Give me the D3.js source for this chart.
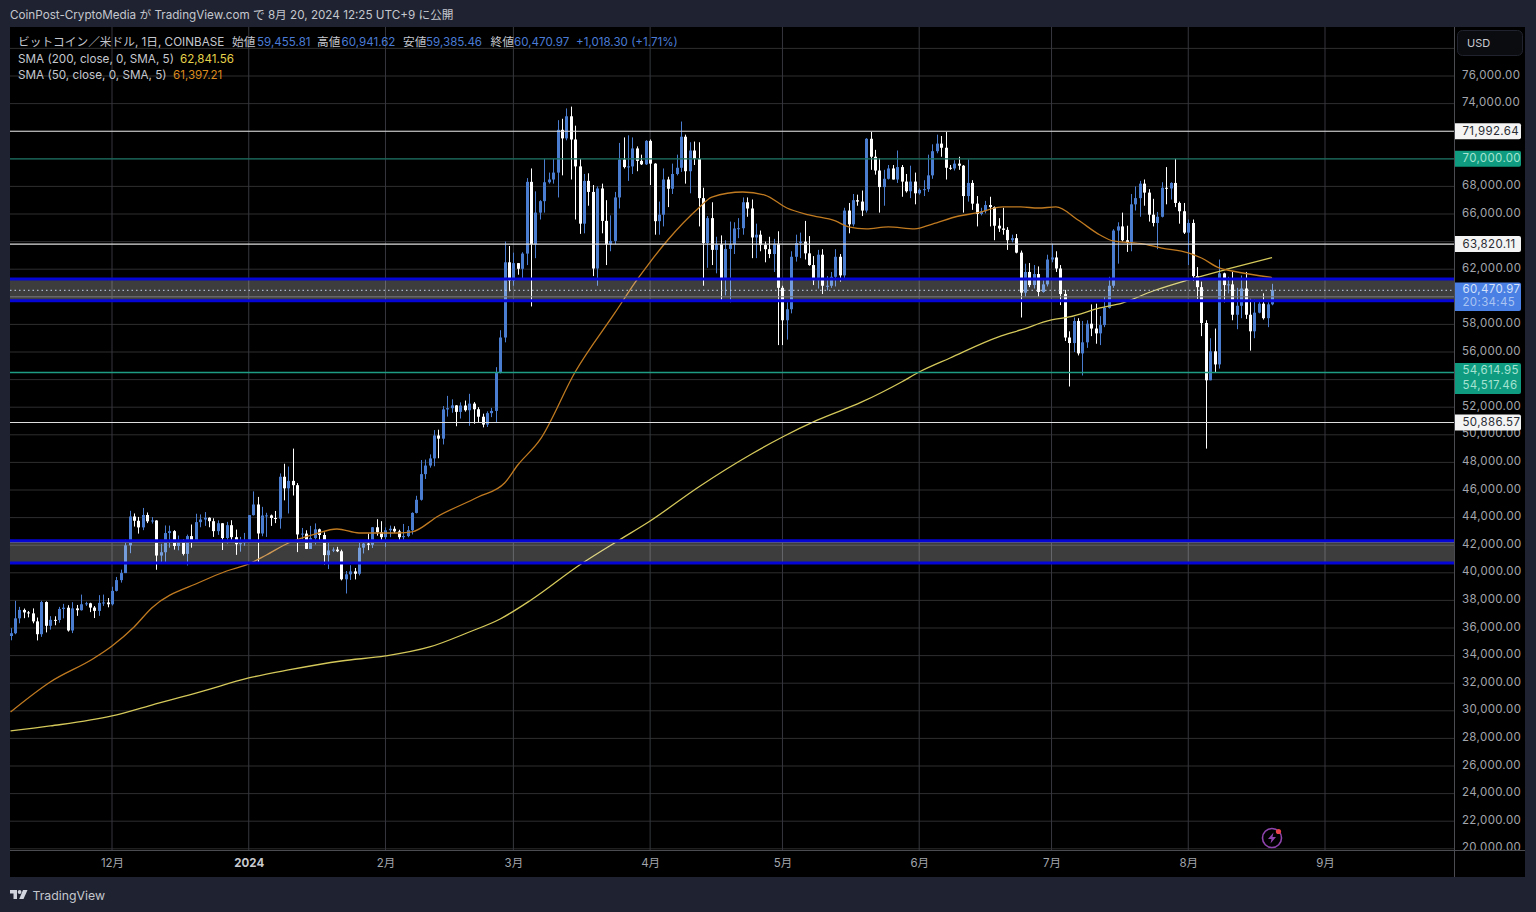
<!DOCTYPE html>
<html lang="ja">
<head>
  <meta charset="UTF-8" />
  <title>BTC/USD</title>
  <script src="https://d3js.org/d3.v7.min.js"></script>
  <style>
    html, body { margin: 0; padding: 0; background: #1f2230; overflow: hidden; }
    svg { display: block; }
    text { font-family: Inter, "Noto Sans CJK JP", sans-serif; }
    .price-axis text { font-size: 11.5px; fill: #a3a6ad; letter-spacing: 0.35px; }
    .time-axis text { font-size: 11.5px; fill: #a3a6ad; }
    .legend { font-size: 11.7px; fill: #c4c7ce; }
    .val { font-size: 11.6px; fill: #4a7cd6; }
  </style>
</head>
<body>
  <svg id="chart" width="1536" height="912"></svg>

  <script>
    const firstDay = "2023-11-08";

    const opens = [
      // Nov
      35420,35620,36700,37310,37130,37060,36480,35550,37880,36160,36590,36580,37380,37470,35820,37420,37290,37720,37790,37480,37240,37820,37850,
      // Dec
      37720,38690,39470,39980,41990,44080,43770,43290,44190,43730,43790,41250,41490,42880,43020,41940,42260,41370,42660,42270,43670,43860,43990,43740,43020,43590,42520,43450,42580,42070,42150,
      // Jan
      42280,44180,44950,42850,44150,44160,43970,43930,46960,46120,46660,46350,42780,42840,41730,42510,43150,42740,41280,41620,41680,41560,39530,39890,40100,39930,41820,42120,42030,43300,42940,
      // Feb
      42580,43080,43190,43000,42580,42660,43090,44340,45290,47150,47770,48290,49950,49720,51840,51930,52130,51660,52120,51780,52260,51850,51310,50740,51570,51730,54490,57050,62500,
      // Mar
      61170,62440,62030,63130,68330,63800,66100,66930,68300,68500,69000,72100,71480,73080,71400,69450,65300,68400,67600,62050,67850,65500,63800,64050,67200,69950,69400,69450,70750,69850,69600,
      // Apr
      71300,69650,65480,65950,68500,67830,68900,69350,71600,69100,70600,70000,67150,63900,65700,63400,63800,61300,63470,63800,64950,64970,66850,66400,64300,64500,63750,63450,63100,63850,
      // May
      60650,58300,59100,62900,63900,64000,63150,62300,61200,63050,60800,60800,61450,62900,61550,66250,65250,67000,66900,66250,71450,70150,69150,67950,68550,69300,68500,69400,68350,67650,68350,
      // Jun
      67500,67750,67800,68800,70550,71100,70800,69350,69300,69650,69500,67300,68250,66750,66000,66200,66650,66500,65150,64950,64850,64100,64250,63200,60300,61800,60850,61650,60350,60900,
      // Jul
      62700,62850,62050,60200,57050,56650,58250,55900,56700,58050,57700,57350,57950,59200,60800,64800,65100,64100,63950,66700,67150,68200,67550,65950,65350,65800,67900,67850,68250,66800,66200,
      // Aug
      64650,65350,61500,60700,58100,53950,56050,55100,61700,60850,60900,58700,59350,60600,58700,57500,58850,59500,58450,59455.81
    ];

    const highs = [
      35990,37970,37530,37410,37230,37420,36760,37970,37930,36860,36850,37530,37750,37650,37870,37670,38420,37900,37830,37590,38380,38420,38170,
      38990,39700,40230,42400,44490,44300,44050,44700,44370,44040,43810,42100,43430,43420,43090,42700,42420,42770,43500,44280,44230,44400,44020,43950,43800,43600,43690,43810,43130,42600,42890,
      44180,45900,45500,44780,44350,44220,44480,47200,47900,47700,49000,46500,43250,43080,43400,43580,43200,42930,42150,41840,41880,41680,40130,40550,40350,42220,42200,42840,43310,43880,43740,
      43290,43420,43370,43120,43540,43390,44380,45580,48170,48200,48580,50340,50370,52080,52820,52570,52150,52350,52480,52970,52370,52000,51530,51700,51950,54900,57580,64000,63680,
      63200,62450,63230,68600,69300,67640,67000,70000,69000,70000,72800,72900,73650,73780,72400,70000,68900,68950,68100,68000,68200,67000,65900,67600,71150,71550,71700,71550,70900,70300,71350,
      71400,69680,66900,69300,68700,69650,70300,72700,71750,71200,71250,71200,67900,65850,66850,64350,64450,64100,65450,65400,65700,67200,67200,67050,65300,64800,64000,64350,64200,64750,
      60800,59600,63300,64500,64650,65500,64400,62950,63400,63450,61500,61800,63450,63100,66450,66800,67450,67400,67700,71500,71950,70650,70050,69200,69550,69550,70600,69550,68900,69500,69000,
      67850,68450,70300,71050,71750,71650,71950,69550,69900,70150,69550,69950,68450,67300,66450,66950,67250,66550,65700,66450,65050,64500,64550,63350,62400,62450,62300,62200,61200,63050,
      63850,63300,62300,60500,57500,58500,58450,58250,58300,59450,59500,58600,60000,61450,64900,65400,66100,65150,67450,68000,68400,68500,67800,67100,66150,68300,69400,68300,70000,66900,66800,
      65600,65600,62150,61100,58300,57000,57700,62700,61750,61450,61800,60650,61550,61800,59850,59800,59650,60250,59600,60941.62
    ];

    const lows = [
      35110,35550,36340,36710,36770,36340,35100,35360,35680,35880,36200,36380,36700,35740,35630,36880,37260,37600,37150,36720,36880,37600,37500,
      37630,38650,39290,39980,41420,43350,42840,43090,43600,43570,40220,40680,40700,41820,41680,41630,41260,40530,41820,42200,43300,43400,43300,42600,42750,41650,42120,42300,41300,41530,41960,
      42200,44150,40750,42650,42600,43400,43600,43200,45250,44300,45600,41500,42430,41720,41730,42050,42200,40600,40270,41500,41500,39450,38500,39480,39520,39810,41400,41640,41800,42690,42300,
      41880,42580,42880,42270,42260,42580,42780,44300,45230,46800,47620,47720,48300,49300,51320,51600,50620,51180,51680,50650,50800,50930,50540,50570,51280,50900,54450,56700,60400,
      60800,61600,61300,62300,59300,62800,65600,66100,68200,68200,67200,68800,71340,68500,65600,64560,64600,66600,61500,60800,64600,62300,63300,63800,66400,69300,68400,68900,69100,69550,69550,
      68100,64500,64500,65100,66500,67450,68800,69050,68200,67500,69550,65100,60800,62100,62300,61700,59700,60100,59600,63100,64250,64500,65800,62800,62800,63300,62500,62800,61800,56500,
      56500,56900,58800,62550,62800,62700,62250,60850,60600,60200,60450,60650,60750,61100,61350,64600,65100,66600,65850,66100,69200,68850,66100,66600,68500,68500,68250,67250,67550,67150,66700,
      67400,67300,67600,68550,70400,70150,68500,69200,69150,69200,66100,66900,66300,65100,65900,66050,65100,64100,64700,64500,63400,63950,63150,58500,60000,60700,60600,60000,60300,60750,
      62500,61800,59400,56800,53500,56000,55750,54300,56300,57150,56600,56500,57800,59150,60650,62400,64000,63250,63300,66250,65800,66600,65450,65100,63450,65750,66700,67050,66500,65300,64550,
      62300,61150,59850,57150,49000,53950,54550,54800,59600,60250,58300,57650,58450,58400,56100,57000,58800,58350,57800,59385.46
    ];

    const closes = [
      35620,36700,37310,37130,37060,36480,35550,37880,36160,36590,36580,37380,37470,35820,37420,37290,37720,37790,37480,37240,37820,37850,37720,
      38690,39470,39980,41990,44080,43770,43290,44190,43730,43790,41250,41490,42880,43020,41940,42260,41370,42660,42270,43670,43860,43990,43740,43020,43590,42520,43450,42580,42070,42150,42280,
      44180,44950,42850,44150,44160,43970,43930,46960,46120,46660,46350,42780,42840,41730,42510,43150,42740,41280,41620,41680,41560,39530,39890,40100,39930,41820,42120,42030,43300,42940,42580,
      43080,43190,43000,42580,42660,43090,44340,45290,47150,47770,48290,49950,49720,51840,51930,52130,51660,52120,51780,52260,51850,51310,50740,51570,51730,54490,57050,62500,61170,
      62440,62030,63130,68330,63800,66100,66930,68300,68500,69000,72100,71480,73080,71400,69450,65300,68400,67600,62050,67850,65500,63800,64050,67200,69950,69400,69450,70750,69850,69600,71300,
      69650,65480,65950,68500,67830,68900,69350,71600,69100,70600,70000,67150,63900,65700,63400,63800,61300,63470,63800,64950,64970,66850,66400,64300,64500,63750,63450,63100,63850,60650,
      58300,59100,62900,63900,64000,63150,62300,61200,63050,60800,60800,61450,62900,61550,66250,65250,67000,66900,66250,71450,70150,69150,67950,68550,69300,68500,69400,68350,67650,68350,67500,
      67750,67800,68800,70550,71100,70800,69350,69300,69650,69500,67300,68250,66750,66000,66200,66650,66500,65150,64950,64850,64100,64250,63200,60300,61800,60850,61650,60350,60900,62700,
      62850,62050,60200,57050,56650,58250,55900,56700,58050,57700,57350,57950,59200,60800,64800,65100,64100,63950,66700,67150,68200,67550,65950,65350,65800,67900,67850,68250,66800,66200,64650,
      65350,61500,60700,58100,53950,56050,55100,61700,60850,60900,58700,59350,60600,58700,57500,58850,59500,58450,59450,60470.97
    ];

    const sma50Dates = ["2023-11-08","2023-11-17","2023-11-27","2023-12-01","2023-12-06","2023-12-10","2023-12-21","2023-12-27","2024-01-01","2024-01-05","2024-01-10","2024-01-16","2024-01-21","2024-01-26","2024-02-04","2024-02-07","2024-02-13","2024-02-22","2024-02-28","2024-03-02","2024-03-07","2024-03-15","2024-03-24","2024-03-29","2024-04-01","2024-04-05","2024-04-12","2024-04-15","2024-04-22","2024-04-27","2024-05-02","2024-05-07","2024-05-13","2024-05-16","2024-05-20","2024-05-25","2024-05-31","2024-06-04","2024-06-10","2024-06-14","2024-06-20","2024-06-24","2024-06-28","2024-07-02","2024-07-07","2024-07-12","2024-07-15","2024-07-22","2024-07-26","2024-08-01","2024-08-04","2024-08-08","2024-08-11","2024-08-20"];
    const sma50Values = [29915,32090,33830,34700,36075,37450,39335,40130,40640,41290,42160,42810,43175,42885,42885,42960,44120,45495,46510,47810,49625,54550,58830,61220,62520,64115,66435,67230,67595,67375,66435,65930,65495,65060,64915,65060,64915,65275,65855,66075,66510,66510,66435,66510,65565,64480,64045,63825,63535,63175,62810,62090,61870,61397.21];

    const sma200Dates = ["2023-11-08","2023-11-17","2023-12-01","2023-12-10","2023-12-21","2024-01-01","2024-01-10","2024-01-22","2024-02-01","2024-02-11","2024-02-20","2024-02-27","2024-03-05","2024-03-16","2024-03-25","2024-04-01","2024-04-12","2024-04-24","2024-05-01","2024-05-09","2024-05-19","2024-05-28","2024-06-01","2024-06-08","2024-06-19","2024-06-24","2024-07-01","2024-07-05","2024-07-12","2024-07-17","2024-07-24","2024-08-01","2024-08-10","2024-08-20"];
    const sma200Values = [28540,28900,29625,30420,31365,32380,32960,33610,33975,34625,35710,36655,38030,40565,42380,43755,46220,48610,49840,51075,52380,53830,54550,55565,57090,57595,58320,58540,59190,59550,60420,61220,62015,62841.56];

    const priceTicks = d3.range(20000, 78001, 2000);
    // these labels sit behind a price tag in the picture
    const coveredTicks = [78000, 72000, 70000, 64000, 60000, 54000];
    const monthDates = ["2023-12-01","2024-01-01","2024-02-01","2024-03-01","2024-04-01","2024-05-01","2024-06-01","2024-07-01","2024-08-01","2024-09-01"];
    const monthLabels = ["12月","2024","2月","3月","4月","5月","6月","7月","8月","9月"];

    const whiteLevels = [71992.64, 63820.11, 50886.57];
    const tealLevels = [54614.95, 54517.46];
    const roundLevel = 70000;
    const zones = [[59720, 61290], [40710, 42330]];
    const zoneGrid = [60000, 42200];
    const lastPrice = 60470.97;

    const parseDay = d3.utcParse("%Y-%m-%d");
    const days = d3.utcDay.range(parseDay(firstDay), d3.utcDay.offset(parseDay(firstDay), closes.length));

    const paneLeft = 10, paneRight = 1454, paneTop = 27, paneBottom = 850;

    const x = d3.scaleUtc()
      .domain([parseDay("2023-12-01"), parseDay("2024-09-01")])
      .range([112, 1325]);
    const y = d3.scaleLinear()
      .domain([20000, 76000])
      .range([848.8, 76]);

    const svg = d3.select("#chart");
    const fmt = d3.format(",.2f");

    svg.append("rect").attr("x", paneLeft).attr("y", paneTop).attr("width", 1525 - paneLeft).attr("height", 877 - paneTop).attr("fill", "#000");

    svg.append("defs").append("clipPath").attr("id", "pane")
      .append("rect").attr("x", paneLeft).attr("y", paneTop).attr("width", paneRight - paneLeft).attr("height", paneBottom - paneTop);
    svg.select("defs").append("clipPath").attr("id", "axisPane")
      .append("rect").attr("x", paneRight).attr("y", paneTop).attr("width", 71).attr("height", paneBottom - paneTop);

    const pane = svg.append("g").attr("clip-path", "url(#pane)");

    // Grid
    pane.selectAll("line.h").data(priceTicks).enter().append("line")
      .attr("class", "h")
      .attr("x1", paneLeft).attr("x2", paneRight)
      .attr("y1", d => y(d)).attr("y2", d => y(d))
      .attr("stroke", "#2e2e30");
    pane.selectAll("line.v").data(monthDates).enter().append("line")
      .attr("class", "v")
      .attr("x1", d => x(parseDay(d))).attr("x2", d => x(parseDay(d)))
      .attr("y1", paneTop).attr("y2", paneBottom)
      .attr("stroke", "#36373e");

    // Candles
    const idx = d3.range(closes.length);
    const candleColor = i => closes[i] >= opens[i] ? "#4a7dd0" : "#ffffff";
    pane.selectAll("line.wick").data(idx).enter().append("line")
      .attr("class", "wick")
      .attr("x1", i => Math.round(x(days[i])) + 0.5).attr("x2", i => Math.round(x(days[i])) + 0.5)
      .attr("y1", i => y(highs[i])).attr("y2", i => y(lows[i]))
      .attr("stroke", candleColor);
    pane.selectAll("rect.body").data(idx).enter().append("rect")
      .attr("class", "body")
      .attr("x", i => Math.round(x(days[i])) - 1)
      .attr("width", 3)
      .attr("y", i => y(Math.max(opens[i], closes[i])))
      .attr("height", i => Math.max(1, Math.abs(y(opens[i]) - y(closes[i]))))
      .attr("fill", candleColor);

    // Moving averages
    const drawSma = (dates, values, color) => {
      const line = d3.line()
        .x(i => x(parseDay(dates[i])))
        .y(i => y(values[i]))
        .curve(d3.curveMonotoneX);
      pane.append("path")
        .attr("d", line(d3.range(dates.length)))
        .attr("fill", "none")
        .attr("stroke", color)
        .attr("stroke-width", 1.3);
    };
    drawSma(sma200Dates, sma200Values, "#d4c85a");
    drawSma(sma50Dates, sma50Values, "#c07a20");

    // Zones
    zones.forEach((z, n) => {
      pane.append("rect")
        .attr("x", paneLeft).attr("width", paneRight - paneLeft)
        .attr("y", y(z[1])).attr("height", y(z[0]) - y(z[1]))
        .attr("fill", "rgba(255,255,255,0.24)");
      pane.append("line")
        .attr("x1", paneLeft).attr("x2", paneRight)
        .attr("y1", y(zoneGrid[n])).attr("y2", y(zoneGrid[n]))
        .attr("stroke", "#707072");
      z.forEach(v => {
        pane.append("line")
          .attr("x1", paneLeft).attr("x2", paneRight)
          .attr("y1", y(v)).attr("y2", y(v))
          .attr("stroke", "#0505d6").attr("stroke-width", 3);
      });
    });

    // Level lines
    pane.selectAll("line.white").data(whiteLevels).enter().append("line")
      .attr("class", "white")
      .attr("x1", paneLeft).attr("x2", paneRight)
      .attr("y1", d => y(d)).attr("y2", d => y(d))
      .attr("stroke", "#dedede").attr("stroke-width", 1.1);
    pane.append("line")
      .attr("x1", paneLeft).attr("x2", paneRight)
      .attr("y1", y(roundLevel)).attr("y2", y(roundLevel))
      .attr("stroke", "#156e5c").attr("stroke-width", 1.2);
    pane.append("line")
      .attr("x1", paneLeft).attr("x2", paneRight)
      .attr("y1", y(tealLevels[1])).attr("y2", y(tealLevels[1]))
      .attr("stroke", "#1f9c84").attr("stroke-width", 1.5);
    pane.append("line")
      .attr("x1", paneLeft).attr("x2", paneRight)
      .attr("y1", y(lastPrice)).attr("y2", y(lastPrice))
      .attr("stroke", "#c9d4ea").attr("stroke-dasharray", "1.5 3");

    // Price axis
    const priceAxis = d3.axisRight(y)
      .tickValues(priceTicks.filter(d => !coveredTicks.includes(d)))
      .tickFormat(fmt)
      .tickSize(0)
      .tickPadding(8);
    const pa = svg.append("g")
      .attr("clip-path", "url(#axisPane)")
      .append("g")
      .attr("class", "price-axis")
      .attr("transform", `translate(${paneRight},-1.5)`)
      .call(priceAxis);
    pa.select(".domain").remove();

    // Time axis
    const timeAxis = d3.axisBottom(x)
      .tickValues(monthDates.map(parseDay))
      .tickFormat((d, i) => monthLabels[i])
      .tickSize(0)
      .tickPadding(9);
    const ta = svg.append("g")
      .attr("class", "time-axis")
      .attr("transform", `translate(0,${paneBottom})`)
      .call(timeAxis);
    ta.select(".domain").remove();
    ta.selectAll("text").filter((d, i) => monthLabels[i] === "2024")
      .style("font-weight", 700).style("fill", "#c8cad0");

    // Pane borders
    svg.append("line").attr("x1", paneRight + 0.5).attr("x2", paneRight + 0.5).attr("y1", paneTop).attr("y2", 877).attr("stroke", "#4b4c52");
    svg.append("line").attr("x1", paneLeft).attr("x2", 1525).attr("y1", paneBottom + 0.5).attr("y2", paneBottom + 0.5).attr("stroke", "#4b4c52");

    // Price tags
    const tag = (y0, h, fill, rows) => {
      svg.append("path")
        .attr("d", `M${paneRight + 1},${y0}H1519a2,2 0 0 1 2,2V${y0 + h - 2}a2,2 0 0 1 -2,2H${paneRight + 1}Z`)
        .attr("fill", fill);
      rows.forEach(r => {
        svg.append("text")
          .attr("x", 1462.5).attr("y", r.y).attr("dy", "0.35em")
          .attr("fill", r.color)
          .style("font-size", "11.5px").style("letter-spacing", "0.35px")
          .text(r.text);
      });
    };
    whiteLevels.forEach(v => tag(y(v) - 8, 16, "#f4f4f4", [{ y: y(v) - 0.5, color: "#2a2c33", text: fmt(v) }]));
    tag(y(roundLevel) - 8, 16, "#0e9b7f", [{ y: y(roundLevel) - 0.5, color: "#a6e3d2", text: fmt(roundLevel) }]);
    tag(282.5, 28.5, "#4a7fe3", [
      { y: 289, color: "#d3e1fa", text: fmt(lastPrice) },
      { y: 302, color: "#a9c4f2", text: "20:34:45" }
    ]);
    tag(363, 31, "#0e9b7f", [
      { y: 370, color: "#a6e3d2", text: fmt(tealLevels[0]) },
      { y: 385, color: "#a6e3d2", text: fmt(tealLevels[1]) }
    ]);

    // USD button
    svg.append("rect").attr("x", 1457.5).attr("y", 30.5).attr("width", 65).attr("height", 25).attr("rx", 5)
      .attr("fill", "#0b0c10").attr("stroke", "#20232d");
    svg.append("text").attr("x", 1467).attr("y", 43).attr("dy", "0.35em")
      .attr("fill", "#c8cad0").style("font-size", "11px").text("USD");

    // Header
    svg.append("text").attr("x", 10).attr("y", 15).attr("dy", "0.35em")
      .attr("fill", "#c4c7ce").style("font-size", "11.68px")
      .text("CoinPost-CryptoMedia が TradingView.com で 8月 20, 2024 12:25 UTC+9 に公開");

    // Legend
    const legendRow = [
      ["ビットコイン／米ドル, 1日, COINBASE", 18, "legend"],
      ["始値", 232, "legend"], [fmt(opens[opens.length - 1]), 257, "val"],
      ["高値", 317, "legend"], [fmt(highs[highs.length - 1]), 341.5, "val"],
      ["安値", 403, "legend"], [fmt(lows[lows.length - 1]), 426, "val"],
      ["終値", 490.5, "legend"], [fmt(closes[closes.length - 1]), 514, "val"],
      ["+1,018.30 (+1.71%)", 576, "val"]
    ];
    legendRow.forEach(r => {
      svg.append("text").attr("class", r[2]).attr("x", r[1]).attr("y", 42).attr("dy", "0.35em").text(r[0]);
    });
    svg.append("text").attr("class", "legend").attr("x", 18).attr("y", 59).attr("dy", "0.35em").text("SMA (200, close, 0, SMA, 5)");
    svg.append("text").attr("class", "val").attr("x", 180).attr("y", 59).attr("dy", "0.35em").style("fill", "#e6d24a").text(fmt(sma200Values[sma200Values.length - 1]));
    svg.append("text").attr("class", "legend").attr("x", 18).attr("y", 75).attr("dy", "0.35em").text("SMA (50, close, 0, SMA, 5)");
    svg.append("text").attr("class", "val").attr("x", 173).attr("y", 75).attr("dy", "0.35em").style("fill", "#d98a1e").text(fmt(sma50Values[sma50Values.length - 1]));

    // Lightning badge
    const badge = svg.append("g").attr("transform", "translate(1272,838)");
    badge.append("circle").attr("r", 9.5).attr("fill", "#000").attr("stroke", "#8e44ad").attr("stroke-width", 1.6);
    badge.append("path").attr("d", "M1.5,-5.5L-4,1H-0.5L-1.5,5.5L4,-1H0.5Z").attr("fill", "#8e44ad");
    badge.append("circle").attr("cx", 6.5).attr("cy", -6.5).attr("r", 2.6).attr("fill", "#e8424a");

    // TradingView mark
    const logo = svg.append("g").attr("fill", "#d1d4dc");
    logo.append("path").attr("d", "M10,890H17V899H13.5V893.5H10Z");
    logo.append("circle").attr("cx", 19.6).attr("cy", 892).attr("r", 1.9);
    logo.append("path").attr("d", "M23,890H27.5L23.5,899H19.2Z");
    svg.append("text").attr("x", 32.5).attr("y", 896).attr("dy", "0.35em")
      .attr("fill", "#c4c7ce").style("font-size", "12.3px").text("TradingView");
  </script>
</body>
</html>
